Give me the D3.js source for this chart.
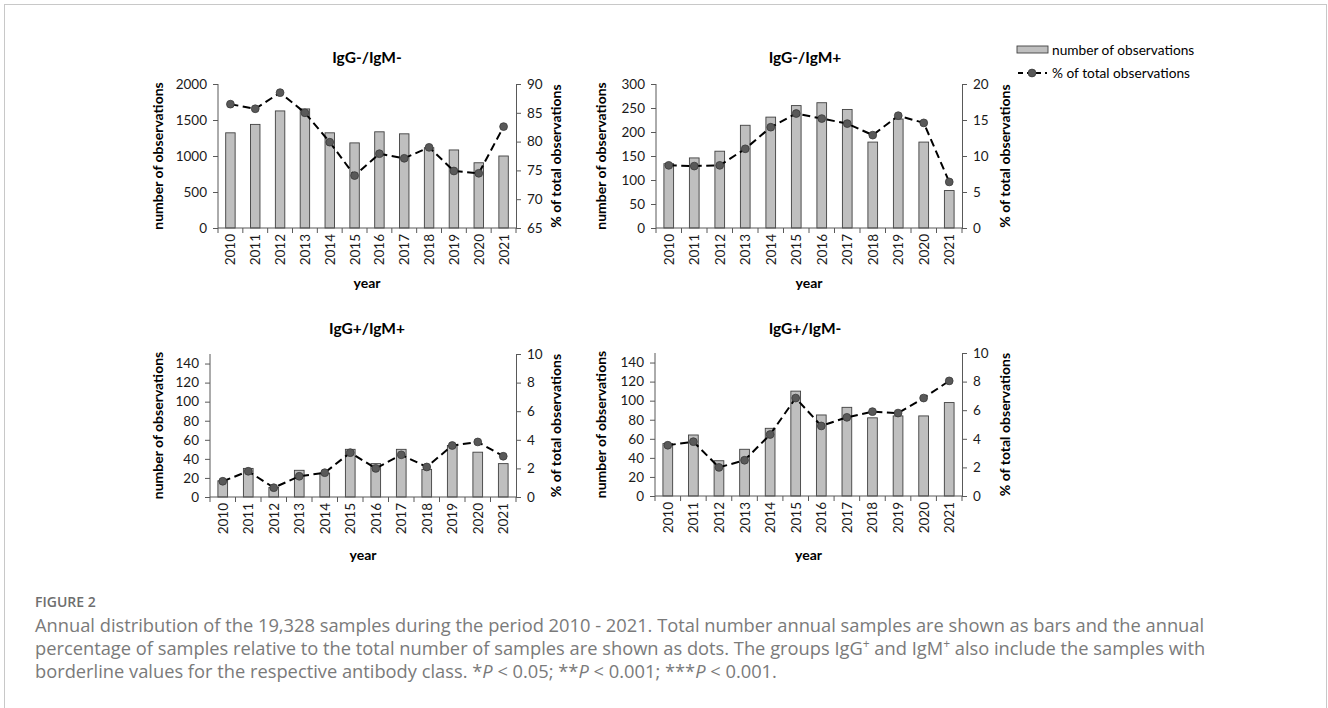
<!DOCTYPE html>
<html>
<head>
<meta charset="utf-8">
<script src="https://cdn.jsdelivr.net/npm/d3@7"></script>
<style>
  html, body { margin: 0; padding: 0; background: #fff; }
  svg { display: block; }
</style>
</head>
<body>
<svg id="chart" width="1328" height="708"></svg>
<script>
// ---------- DATA ----------
const years = ["2010","2011","2012","2013","2014","2015","2016","2017","2018","2019","2020","2021"];

const panelTitles = ["IgG-/IgM-", "IgG-/IgM+", "IgG+/IgM+", "IgG+/IgM-"];

const countsNegNeg = [1322, 1439, 1626, 1654, 1322, 1182, 1336, 1308, 1115, 1084, 906, 1000];
const pctNegNeg    = [86.5, 85.7, 88.5, 85.0, 79.9, 74.1, 77.9, 77.1, 79.0, 74.9, 74.5, 82.6];

const countsNegPos = [134, 146, 160, 214, 231, 255, 261, 247, 179, 227, 179, 78];
const pctNegPos    = [8.7, 8.6, 8.7, 11.0, 14.0, 15.9, 15.2, 14.5, 12.9, 15.6, 14.6, 6.4];

const countsPosPos = [17, 30, 10, 28, 25, 50, 35, 50, 29, 54, 47, 35];
const pctPosPos    = [1.1, 1.8, 0.65, 1.45, 1.7, 3.1, 2.0, 2.95, 2.1, 3.6, 3.85, 2.85];

const countsPosNeg = [55, 64, 37, 49, 71, 110, 85, 93, 82, 84, 84, 98];
const pctPosNeg    = [3.55, 3.8, 2.0, 2.5, 4.3, 6.85, 4.9, 5.5, 5.9, 5.8, 6.85, 8.05];

const leftTicks1 = [0, 500, 1000, 1500, 2000];
const rightTicks1 = [65, 70, 75, 80, 85, 90];
const leftTicks2 = [0, 50, 100, 150, 200, 250, 300];
const rightTicks2 = [0, 5, 10, 15, 20];
const leftTicks34 = [0, 20, 40, 60, 80, 100, 120, 140];
const rightTicks34 = [0, 2, 4, 6, 8, 10];

const legendLabels = ["number of observations", "% of total observations"];
const xLabel = "year";
const yLeftLabel = "number of observations";
const yRightLabel = "% of total observations";

// ---------- LAYOUT ----------
const panels = [
  { title: panelTitles[0], counts: countsNegNeg, pct: pctNegNeg, x0: 218, x1: 516, y0: 84, y1: 228,
    lDom: [0, 2000], lTicks: leftTicks1, rDom: [65, 90], rTicks: rightTicks1, titleX: 367, titleY: 63,
    lLabX: 158, rLabX: 556, yearY: 288 },
  { title: panelTitles[1], counts: countsNegPos, pct: pctNegPos, x0: 656, x1: 962, y0: 84, y1: 228,
    lDom: [0, 300], lTicks: leftTicks2, rDom: [0, 20], rTicks: rightTicks2, titleX: 805, titleY: 63,
    lLabX: 601, rLabX: 1005, yearY: 288 },
  { title: panelTitles[2], counts: countsPosPos, pct: pctPosPos, x0: 210, x1: 516, y0: 354, y1: 497,
    lDom: [0, 150], lTicks: leftTicks34, rDom: [0, 10], rTicks: rightTicks34, titleX: 367, titleY: 334,
    lLabX: 158, rLabX: 556, yearY: 560 },
  { title: panelTitles[3], counts: countsPosNeg, pct: pctPosNeg, x0: 655, x1: 962, y0: 353, y1: 496,
    lDom: [0, 150], lTicks: leftTicks34, rDom: [0, 10], rTicks: rightTicks34, titleX: 805, titleY: 334,
    lLabX: 601, rLabX: 1005, yearY: 560 }
];

const FONT = "Lato, 'Open Sans', sans-serif";
const AXIS = "#595959";
const BAR_FILL = "#bfbfbf";
const BAR_STROKE = "#404040";
const DOT_FILL = "#595959";

const svg = d3.select("#chart");

// frame
svg.append("rect").attr("x", 4.5).attr("y", 4.5).attr("width", 1322).attr("height", 760)
  .attr("fill", "none").attr("stroke", "#c8c8c8").attr("stroke-width", 1);

panels.forEach(p => {
  const g = svg.append("g");
  const x = d3.scaleBand().domain(years).range([p.x0, p.x1]).paddingInner(0.62).paddingOuter(0.31);
  const xc = d3.scaleBand().domain(years).range([p.x0, p.x1]);
  const yl = d3.scaleLinear().domain(p.lDom).range([p.y1, p.y0]);
  const yr = d3.scaleLinear().domain(p.rDom).range([p.y1, p.y0]);

  g.append("text").attr("x", p.titleX).attr("y", p.titleY).attr("text-anchor", "middle")
    .attr("font-family", FONT).attr("font-weight", "bold").attr("font-size", 15.5).attr("fill", "#000")
    .text(p.title);

  g.selectAll("rect.bar").data(p.counts).join("rect").attr("class", "bar")
    .attr("x", (d, i) => x(years[i]))
    .attr("width", x.bandwidth())
    .attr("y", d => yl(d))
    .attr("height", d => p.y1 - yl(d))
    .attr("fill", BAR_FILL).attr("stroke", BAR_STROKE).attr("stroke-width", 0.9);

  const la = g.append("g").attr("transform", `translate(${p.x0},0)`)
    .call(d3.axisLeft(yl).tickValues(p.lTicks).tickFormat(d3.format("d")).tickSize(5).tickPadding(6).tickSizeOuter(0));
  la.select(".domain").attr("stroke", AXIS).attr("d", `M0,${p.y1}V${p.y0}`);
  la.selectAll(".tick line").attr("stroke", AXIS);
  la.selectAll(".tick text").attr("font-family", FONT).attr("font-size", 13.5).attr("fill", "#1a1a1a");

  const ra = g.append("g").attr("transform", `translate(${p.x1},0)`)
    .call(d3.axisRight(yr).tickValues(p.rTicks).tickFormat(d3.format("d")).tickSize(5).tickPadding(6).tickSizeOuter(0));
  ra.select(".domain").attr("stroke", AXIS);
  ra.selectAll(".tick line").attr("stroke", AXIS);
  ra.selectAll(".tick text").attr("font-family", FONT).attr("font-size", 13.5).attr("fill", "#1a1a1a");

  const ba = g.append("g").attr("transform", `translate(0,${p.y1})`);
  ba.append("line").attr("x1", p.x0).attr("x2", p.x1).attr("y1", 0).attr("y2", 0).attr("stroke", AXIS);
  const bounds = years.map(yv => xc(yv)).concat([p.x1]);
  ba.selectAll("line.tk").data(bounds).join("line").attr("class", "tk")
    .attr("x1", d => d).attr("x2", d => d).attr("y1", 0).attr("y2", 5).attr("stroke", AXIS);
  ba.selectAll("text").data(years).join("text")
    .attr("transform", d => `translate(${xc(d) + xc.bandwidth() / 2 + 5},6) rotate(-90)`)
    .attr("text-anchor", "end")
    .attr("font-family", FONT).attr("font-size", 13.5).attr("fill", "#1a1a1a")
    .text(d => d);

  const cx = i => xc(years[i]) + xc.bandwidth() / 2;
  const line = d3.line().x((d, i) => cx(i)).y(d => yr(d));
  g.append("path").datum(p.pct).attr("d", line).attr("fill", "none")
    .attr("stroke", "#000").attr("stroke-width", 2).attr("stroke-dasharray", "8,4.5");
  g.selectAll("circle.dot").data(p.pct).join("circle").attr("class", "dot")
    .attr("cx", (d, i) => cx(i)).attr("cy", d => yr(d)).attr("r", 3.9)
    .attr("fill", DOT_FILL).attr("stroke", "#3a3a3a").attr("stroke-width", 0.8);

  g.append("text").attr("transform", `translate(${p.lLabX},${(p.y0 + p.y1) / 2}) rotate(-90)`)
    .attr("text-anchor", "middle").attr("dy", "0.35em")
    .attr("font-family", FONT).attr("font-weight", "bold").attr("font-size", 14).attr("fill", "#000")
    .text(yLeftLabel);
  g.append("text").attr("transform", `translate(${p.rLabX},${(p.y0 + p.y1) / 2}) rotate(-90)`)
    .attr("text-anchor", "middle").attr("dy", "0.35em")
    .attr("font-family", FONT).attr("font-weight", "bold").attr("font-size", 14).attr("fill", "#000")
    .text(yRightLabel);
  g.append("text").attr("x", (p.x0 + p.x1) / 2).attr("y", p.yearY).attr("text-anchor", "middle")
    .attr("font-family", FONT).attr("font-weight", "bold").attr("font-size", 14).attr("fill", "#000")
    .text(xLabel);
});

// legend
const lg = svg.append("g");
lg.append("rect").attr("x", 1017).attr("y", 46).attr("width", 31).attr("height", 7)
  .attr("fill", BAR_FILL).attr("stroke", BAR_STROKE).attr("stroke-width", 0.9);
lg.append("text").attr("x", 1052).attr("y", 50).attr("dy", "0.35em")
  .attr("font-family", FONT).attr("font-size", 13.7).attr("fill", "#000").text(legendLabels[0]);
lg.append("line").attr("x1", 1018).attr("x2", 1047).attr("y1", 73).attr("y2", 73)
  .attr("stroke", "#000").attr("stroke-width", 2).attr("stroke-dasharray", "5,4");
lg.append("circle").attr("cx", 1032).attr("cy", 73).attr("r", 3.9)
  .attr("fill", DOT_FILL).attr("stroke", "#3a3a3a").attr("stroke-width", 0.8);
lg.append("text").attr("x", 1052).attr("y", 73).attr("dy", "0.35em")
  .attr("font-family", FONT).attr("font-size", 13.7).attr("fill", "#000").text(legendLabels[1]);

// caption
const CAP = "'Open Sans', Lato, sans-serif";
svg.append("text").attr("x", 35).attr("y", 607).attr("font-family", CAP).attr("font-size", 14)
  .attr("font-weight", "600").attr("fill", "#6e6e6e").text("FIGURE 2");
const cap = svg.append("g").attr("font-family", CAP).attr("font-size", 18.3).attr("fill", "#7a7a7a");
cap.append("text").attr("x", 35).attr("y", 632)
  .text("Annual distribution of the 19,328 samples during the period 2010 - 2021. Total number annual samples are shown as bars and the annual");
const l2 = cap.append("text").attr("x", 35).attr("y", 655);
l2.append("tspan").text("percentage of samples relative to the total number of samples are shown as dots. The groups IgG");
l2.append("tspan").attr("dy", -7).attr("font-size", 12).text("+");
l2.append("tspan").attr("dy", 7).text(" and IgM");
l2.append("tspan").attr("dy", -7).attr("font-size", 12).text("+");
l2.append("tspan").attr("dy", 7).text(" also include the samples with");
const l3 = cap.append("text").attr("x", 35).attr("y", 678);
l3.append("tspan").text("borderline values for the respective antibody class. *");
l3.append("tspan").attr("font-style", "italic").text("P");
l3.append("tspan").text(" < 0.05; **");
l3.append("tspan").attr("font-style", "italic").text("P");
l3.append("tspan").text(" < 0.001; ***");
l3.append("tspan").attr("font-style", "italic").text("P");
l3.append("tspan").text(" < 0.001.");
</script>
</body>
</html>
